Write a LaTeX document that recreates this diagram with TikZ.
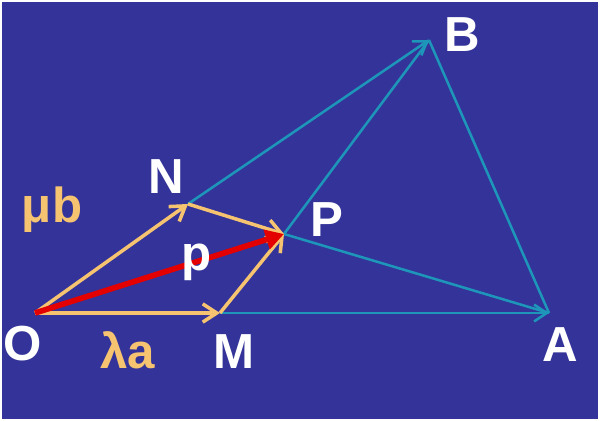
\documentclass[tikz,border=0pt]{standalone}
\usepackage{fontspec}
\setmainfont{Liberation Sans}
\usetikzlibrary{arrows.meta}
\definecolor{slideblue}{RGB}{51,51,153}
\definecolor{tealline}{RGB}{30,150,185}
\definecolor{peach}{RGB}{246,196,112}
\definecolor{vecred}{RGB}{228,0,0}
\begin{document}
\begin{tikzpicture}[x=0.025cm, y=-0.025cm,
    teal/.style={tealline, line width=1.8pt},
    tealvec/.style={teal, -{Straight Barb[length=9pt, width=12pt, line width=1.8pt]}},
    peachvec/.style={peach, line width=2.5pt, -{Straight Barb[length=10pt, width=13pt, line width=2.5pt]}},
    redvec/.style={vecred, line width=4pt, -{Triangle[length=13pt, width=14pt]}},
    pointlabel/.style={text=white, font=\fontsize{35}{38}\selectfont\bfseries, inner sep=0pt},
    veclabel/.style={text=peach, font=\fontsize{35}{38}\selectfont\bfseries, inner sep=0pt}]
    % Background
    \useasboundingbox (0,0) rectangle (600,421);
    \fill[white] (0,0) rectangle (600,421);
    \fill[slideblue] (2,2) rectangle (598,419);

    % Points
    \coordinate (O) at (35,313);
    \coordinate (M) at (220,313);
    \coordinate (A) at (549,313);
    \coordinate (N) at (188,204);
    \coordinate (B) at (429,40);
    \coordinate (P) at (284,234);

    % Triangle and lines through P
    \draw[tealvec] (M) -- (A);
    \draw[tealvec] (N) -- (B);
    \draw[teal] (P) -- (B);
    \draw[teal] (P) -- (A);
    \draw[teal] (B) -- (A);

    % Vectors lambda a, mu b and p
    \draw[peachvec] (O) -- (M);
    \draw[peachvec] (M) -- (P);
    \draw[peachvec] (O) -- (N);
    \draw[peachvec] (N) -- (P);
    \draw[redvec] (O) -- (P);

    % Labels
    \node[pointlabel] (lO) at (23,344) {O};
    \node[pointlabel] (lM) at (234,352) {M};
    \node[pointlabel] (lA) at (560,345) {A};
    \node[pointlabel] (lN) at (166,177) {N};
    \node[pointlabel] (lB) at (462,35) {B};
    \node[pointlabel] (lP) at (327,220) {P};
    \node[pointlabel] (lp) at (197,262) {p};
    \node[veclabel] (lmub) at (52,210) {μb};
    \node[veclabel] (llama) at (128,350) {λa};
\end{tikzpicture}
\end{document}
